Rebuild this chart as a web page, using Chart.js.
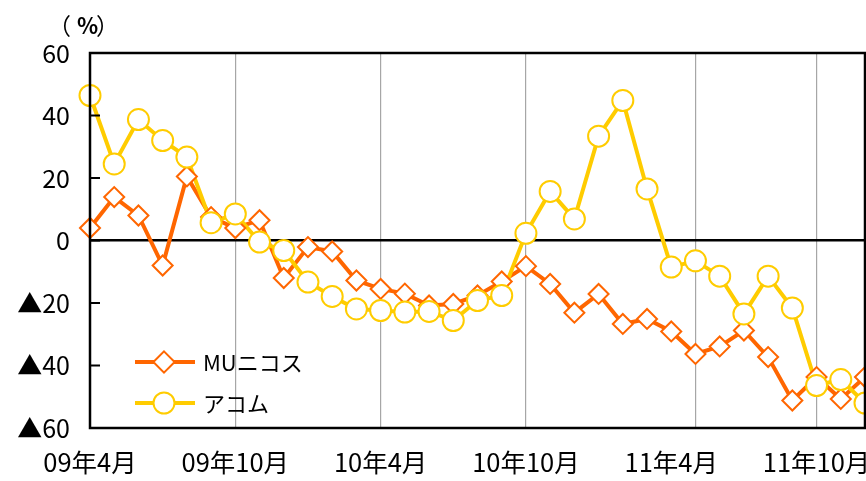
<!DOCTYPE html>
<html>
<head>
<meta charset="utf-8">
<script src="https://cdn.jsdelivr.net/npm/chart.js@4.4.1/dist/chart.umd.min.js"></script>
<style>
    html, body { margin: 0; padding: 0; background: #fff; }
    #wrap { width: 866px; height: 481px; }
</style>
</head>
<body>
<div id="wrap"><canvas id="chart" width="866" height="481"></canvas></div>
<script>
// Data
const months = [
    '09年4月', '09年5月', '09年6月', '09年7月', '09年8月', '09年9月',
    '09年10月', '09年11月', '09年12月', '10年1月', '10年2月', '10年3月',
    '10年4月', '10年5月', '10年6月', '10年7月', '10年8月', '10年9月',
    '10年10月', '10年11月', '10年12月', '11年1月', '11年2月', '11年3月',
    '11年4月', '11年5月', '11年6月', '11年7月', '11年8月', '11年9月',
    '11年10月', '11年11月', '11年12月'
];
const tickLabels = ['09年4月', '09年10月', '10年4月', '10年10月', '11年4月', '11年10月'];
const gridMonths = ['09年10月', '10年4月', '10年10月', '11年5月', '11年10月'];
const yTicks = [60, 40, 20, 0, -20, -40, -60];

const muNicos = [4, 13.9, 8, -8, 20.5, 7.5, 4, 6.5, -12, -2.1, -3.5, -12.8, -15.5, -17, -20.8, -20.3,
    -17.6, -13.1, -8.2, -13.9, -23.1, -17.1, -26.7, -25.1, -29.1, -36.3, -33.9, -28.8, -37.3, -51.2,
    -43.7, -50.7, -43.7];
const acom = [46.4, 24.5, 38.7, 32, 26.7, 5.7, 8.5, -0.5, -3.2, -13.3, -17.9, -21.9, -22.4, -22.9, -22.7,
    -25.6, -19.2, -17.6, 2.3, 15.7, 6.9, 33.4, 44.8, 16.5, -8.5, -6.5, -11.4, -23.5, -11.4, -21.6,
    -46.4, -44.5, -52];

const FONT = '"Noto Sans CJK JP", "Noto Sans", sans-serif';
const ORANGE = '#FF6600';
const YELLOW = '#FFCC00';

const series = [
    { label: 'MUニコス', data: muNicos, color: ORANGE, pointStyle: 'rectRot', radius: 10 },
    { label: 'アコム', data: acom, color: YELLOW, pointStyle: 'circle', radius: 10.5 }
];

// Like Excel: every line first, then markers of each series on top
const lineSets = series.map((s, i) => ({
    label: s.label,
    data: s.data,
    order: 10 - i,
    borderColor: s.color,
    borderWidth: 4,
    pointRadius: 0,
    tension: 0,
    clip: false
}));
const markerSets = series.map((s, i) => ({
    label: s.label + ' marker',
    data: s.data,
    order: 5 - i,
    showLine: false,
    pointStyle: s.pointStyle,
    pointRadius: s.radius,
    pointBorderWidth: 2,
    pointBorderColor: s.color,
    pointBackgroundColor: '#fff',
    clip: false
}));

// Frame, inner ticks, unit label and legend drawn on the canvas
const decorPlugin = {
    id: 'decor',
    afterDraw(chart) {
        const { ctx, chartArea: a } = chart;
        const y = chart.scales.y;
        ctx.save();
        ctx.strokeStyle = '#000';
        ctx.lineWidth = 2.5;
        ctx.strokeRect(a.left, a.top, a.right - a.left, a.bottom - a.top);
        ctx.lineWidth = 2;
        yTicks.forEach(v => {
            const py = y.getPixelForValue(v);
            ctx.beginPath();
            ctx.moveTo(a.left, py);
            ctx.lineTo(a.left + 10, py);
            ctx.stroke();
        });

        // unit label
        ctx.fillStyle = '#000';
        ctx.textBaseline = 'middle';
        ctx.font = '23px ' + FONT;
        ctx.fillText('（', 48, 26);
        ctx.font = 'bold 22px ' + FONT;
        ctx.fillText('%', 77, 26);
        ctx.font = '23px ' + FONT;
        ctx.fillText('）', 96, 26);

        // legend
        [362, 403].forEach((ly, i) => {
            const s = series[i];
            ctx.strokeStyle = s.color;
            ctx.lineWidth = 4;
            ctx.beginPath();
            ctx.moveTo(135, ly);
            ctx.lineTo(195, ly);
            ctx.stroke();
            ctx.fillStyle = '#fff';
            ctx.lineWidth = 2;
            ctx.beginPath();
            if (s.pointStyle === 'circle') {
                ctx.arc(164, ly, s.radius, 0, Math.PI * 2);
            } else {
                const d = s.radius * Math.SQRT2 * 0.75;
                ctx.moveTo(164, ly - d);
                ctx.lineTo(164 + d, ly);
                ctx.lineTo(164, ly + d);
                ctx.lineTo(164 - d, ly);
                ctx.closePath();
            }
            ctx.fill();
            ctx.stroke();
            ctx.fillStyle = '#000';
            ctx.font = '22px ' + FONT;
            ctx.fillText(s.label, 203, ly + 1);
        });
        ctx.restore();
    }
};

const chart = new Chart(document.getElementById('chart'), {
    type: 'line',
    data: {
        labels: months,
        datasets: [...lineSets, ...markerSets]
    },
    options: {
        responsive: false,
        animation: false,
        layout: { autoPadding: false, padding: { top: 53, right: 1, left: 0, bottom: 0 } },
        plugins: {
            legend: { display: false },
            tooltip: { enabled: false }
        },
        scales: {
            x: {
                offset: false,
                border: { display: false },
                grid: {
                    drawTicks: false,
                    color: c => gridMonths.includes(months[c.index]) ? '#a6a6a6' : 'rgba(0,0,0,0)',
                    lineWidth: 1.2
                },
                ticks: {
                    autoSkip: false,
                    maxRotation: 0,
                    padding: 19,
                    color: '#000',
                    font: { family: FONT, size: 25.5 },
                    callback: function (v, i) {
                        return tickLabels.includes(months[i]) ? months[i] : '';
                    }
                },
                afterFit: s => {
                    s.height = 53;
                    s.paddingRight = 0;
                    s.paddingLeft = 0;
                }
            },
            y: {
                min: -60,
                max: 60,
                border: { display: false },
                grid: {
                    drawTicks: false,
                    color: c => c.tick && c.tick.value === 0 ? '#000' : 'rgba(0,0,0,0)',
                    lineWidth: 2.5
                },
                ticks: {
                    stepSize: 20,
                    padding: 20,
                    color: '#000',
                    font: { family: FONT, size: 25 },
                    callback: v => v < 0 ? '▲' + (-v) : String(v)
                },
                afterFit: s => { s.width = 90; }
            }
        }
    },
    plugins: [decorPlugin]
});
</script>
</body>
</html>
